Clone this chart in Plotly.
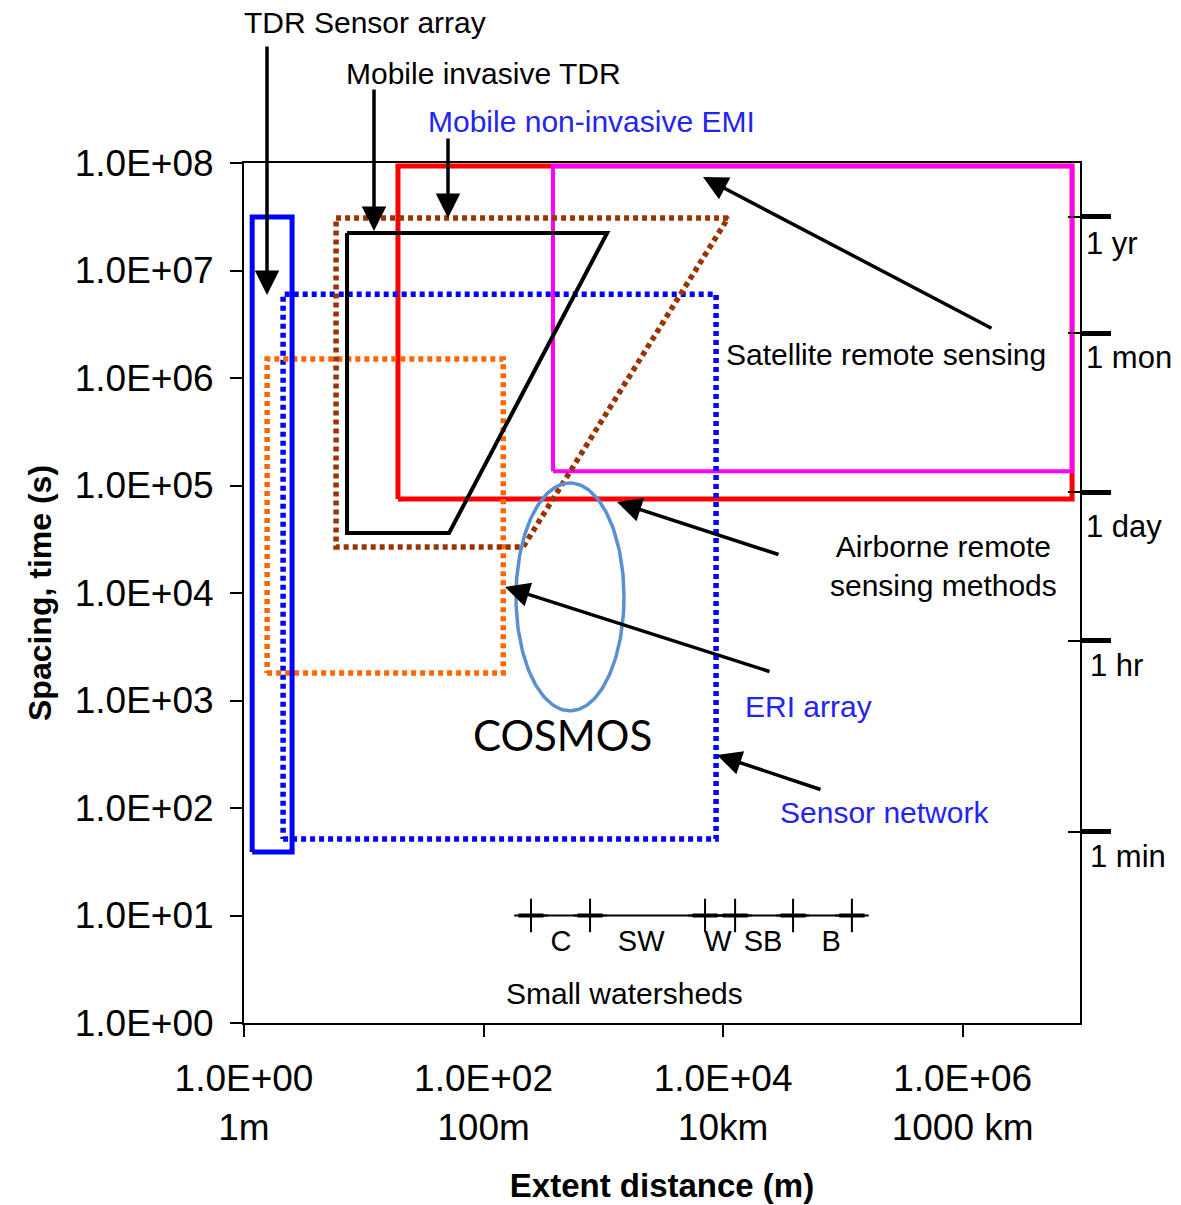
import numpy as np
import plotly.graph_objects as go

# ---------------- data ----------------
y_tickvals = [1e0, 1e1, 1e2, 1e3, 1e4, 1e5, 1e6, 1e7, 1e8]
y_ticktext = ["1.0E+00", "1.0E+01", "1.0E+02", "1.0E+03", "1.0E+04",
              "1.0E+05", "1.0E+06", "1.0E+07", "1.0E+08"]
x_tickvals = [1e0, 1e2, 1e4, 1e6]
x_ticktext = ["1.0E+00<br>1m", "1.0E+02<br>100m", "1.0E+04<br>10km", "1.0E+06<br>1000 km"]

time_vals = [60, 3600, 86400, 2.6e6, 3.15e7]
time_labels = ["1 min", "1 hr", "1 day", "1 mon", "1 yr"]

# rectangles: [xmin, xmax], [ymin, ymax]
airborne_x, airborne_y = [19.3, 8.2e6], [7.5e4, 9.4e7]
satellite_x, satellite_y = [380, 8.2e6], [1.36e5, 9.4e7]
sensor_net_x, sensor_net_y = [2.12, 8740], [51.5, 6.0e6]
eri_x, eri_y = [1.56, 146], [1800, 1.5e6]
tdr_array_x, tdr_array_y = [1.17, 2.52], [39, 3.15e7]

# polygons (closed)
emi_x = [5.87, 11000, 214, 5.87, 5.87]
emi_y = [3.08e7, 3.08e7, 2.68e4, 2.68e4, 3.08e7]
tdr_mobile_x = [7.25, 1075, 51.5, 7.25, 7.25]
tdr_mobile_y = [2.23e7, 2.23e7, 3.61e4, 3.61e4, 2.23e7]

# COSMOS footprint ellipse: centre (m, s) and half-extent in decades
cosmos_center = [527, 9200]
cosmos_half_decades = [0.451, 1.06]

# small watersheds scale
ws_axis_x = [202, 1.53e5]
ws_bounds = [249, 775, 7070, 12600, 38400, 1.19e5]
ws_level = 10
ws_labels = ["C", "SW", "W", "SB", "B"]
ws_label_x = [444, 2070, 9080, 21600, 79800]
ws_label_y = 5.5

FONT = "Liberation Sans"


def rect(xr, yr):
    return ([xr[0], xr[1], xr[1], xr[0], xr[0]],
            [yr[0], yr[0], yr[1], yr[1], yr[0]])


fig = go.Figure()


def add_line(xs, ys, color, width, dash="solid"):
    fig.add_trace(go.Scatter(x=xs, y=ys, mode="lines",
                             line=dict(color=color, width=width, dash=dash),
                             hoverinfo="skip", showlegend=False))


DOT = "5px,4px"
add_line(*rect(airborne_x, airborne_y), "#FF0000", 5)
add_line(*rect(satellite_x, satellite_y), "#FF00FF", 4)
add_line(*rect(sensor_net_x, sensor_net_y), "#0000FF", 5.5, DOT)
add_line(*rect(eri_x, eri_y), "#FF6600", 5.5, DOT)
add_line(emi_x, emi_y, "#993300", 5.5, DOT)
add_line(tdr_mobile_x, tdr_mobile_y, "#000000", 4)
add_line(*rect(tdr_array_x, tdr_array_y), "#0000FF", 5)

# ellipse
t = np.linspace(0, 2 * np.pi, 200)
ex = 10 ** (np.log10(cosmos_center[0]) + cosmos_half_decades[0] * np.cos(t))
ey = 10 ** (np.log10(cosmos_center[1]) + cosmos_half_decades[1] * np.sin(t))
add_line(ex, ey, "#5B8FD3", 3.5)

# small watersheds scale
add_line(ws_axis_x, [ws_level] * len(ws_axis_x), "#000000", 2)
fig.add_trace(go.Scatter(x=ws_bounds, y=[ws_level] * len(ws_bounds), mode="markers",
                         marker=dict(symbol="line-ew", size=18, line=dict(width=4, color="black")),
                         hoverinfo="skip", showlegend=False))
fig.add_trace(go.Scatter(x=ws_bounds, y=[ws_level] * len(ws_bounds), mode="markers",
                         marker=dict(symbol="cross-thin", size=24, line=dict(width=2, color="black")),
                         hoverinfo="skip", showlegend=False))
fig.add_trace(go.Scatter(x=ws_label_x, y=[ws_label_y] * len(ws_label_x), mode="text",
                         text=ws_labels, textfont=dict(family=FONT, size=29, color="black"),
                         hoverinfo="skip", showlegend=False))

# invisible traces to carry right-hand time axes
for ya in ["y2", "y3"]:
    fig.add_trace(go.Scatter(x=[1] * len(time_vals), y=time_vals, yaxis=ya, mode="markers",
                             marker=dict(opacity=0), hoverinfo="skip", showlegend=False))


def P(px, py):
    return (px - 244) / 836, (1023 - py) / 860


anns = []


def text(s, px, py, size=30, color="black", xanchor="left", family=FONT):
    x, y = P(px, py)
    anns.append(dict(x=x, y=y, xref="paper", yref="paper", text=s, showarrow=False,
                     xanchor=xanchor, yanchor="middle",
                     font=dict(family=family, size=size, color=color)))


def arrow(tipx, tipy, ax, ay):
    x, y = P(tipx, tipy)
    anns.append(dict(x=x, y=y, xref="paper", yref="paper", text="", showarrow=True,
                     ax=ax, ay=ay, arrowhead=2, arrowsize=1.4, arrowwidth=3.5,
                     arrowcolor="black"))


BLUE_TXT = "#2424F0"
text("TDR Sensor array", 365, 23, xanchor="center")
text("Mobile invasive TDR", 483, 73, xanchor="center")
text("Mobile non-invasive EMI", 591, 121, xanchor="center", color=BLUE_TXT)
text("Satellite remote sensing", 724, 354)
text("Airborne remote<br>sensing methods", 828, 566)
text("ERI array", 743, 706, color=BLUE_TXT)
text("Sensor network", 778, 812, color=BLUE_TXT)
text("COSMOS", 562, 735, size=42, xanchor="center", family="Lato")
text("Small watersheds", 624, 993, size=30, xanchor="center")
text("1 yr", 1084, 243, size=31)
text("1 mon", 1084, 357, size=31)
text("1 day", 1084, 526, size=31)
text("1 hr", 1088, 665, size=31)
text("1 min", 1088, 856, size=31)

arrow(267, 295, 0, -250)
arrow(374, 231, 0, -143)
arrow(448, 218, 0, -81)
arrow(703, 177, 290, 152)
arrow(617, 502, 163, 53)
arrow(505, 587, 266, 85)
arrow(717, 755, 105, 35)

axis_common = dict(type="log", showgrid=False, zeroline=False, showline=True,
                   linecolor="black", linewidth=2, mirror=True, ticks="outside",
                   ticklen=12, tickwidth=2, tickcolor="black", automargin=False,
                   tickfont=dict(family=FONT, size=37, color="black"))

fig.update_layout(
    width=1181, height=1205,
    margin=dict(l=244, r=101, t=163, b=182),
    paper_bgcolor="white", plot_bgcolor="white",
    showlegend=False,
    annotations=anns,
    xaxis=dict(range=[0, 6.98], tickmode="array", tickvals=x_tickvals, ticktext=x_ticktext,
               ticklabelstandoff=10,
               title=dict(text="<b>Extent distance (m)</b>", standoff=27,
                          font=dict(family=FONT, size=33, color="black")),
               **axis_common),
    yaxis=dict(range=[0, 8], tickmode="array", tickvals=y_tickvals, ticktext=y_ticktext,
               ticklabelstandoff=9,
               title=dict(text="<b>Spacing, time (s)</b>", standoff=14,
                          font=dict(family=FONT, size=32, color="black")),
               **axis_common),
    yaxis2=dict(type="log", range=[0, 8], overlaying="y", side="right", anchor="x",
                showgrid=False, zeroline=False, showline=False, tickmode="array",
                tickvals=time_vals, ticks="outside", ticklen=30, tickwidth=5,
                tickcolor="black", showticklabels=False, automargin=False),
    yaxis3=dict(type="log", range=[0, 8], overlaying="y", side="right", anchor="x",
                showgrid=False, zeroline=False, showline=False, tickmode="array",
                tickvals=time_vals, ticks="inside", ticklen=12, tickwidth=2,
                tickcolor="black", showticklabels=False, automargin=False),
)

fig.write_html("out.html")
